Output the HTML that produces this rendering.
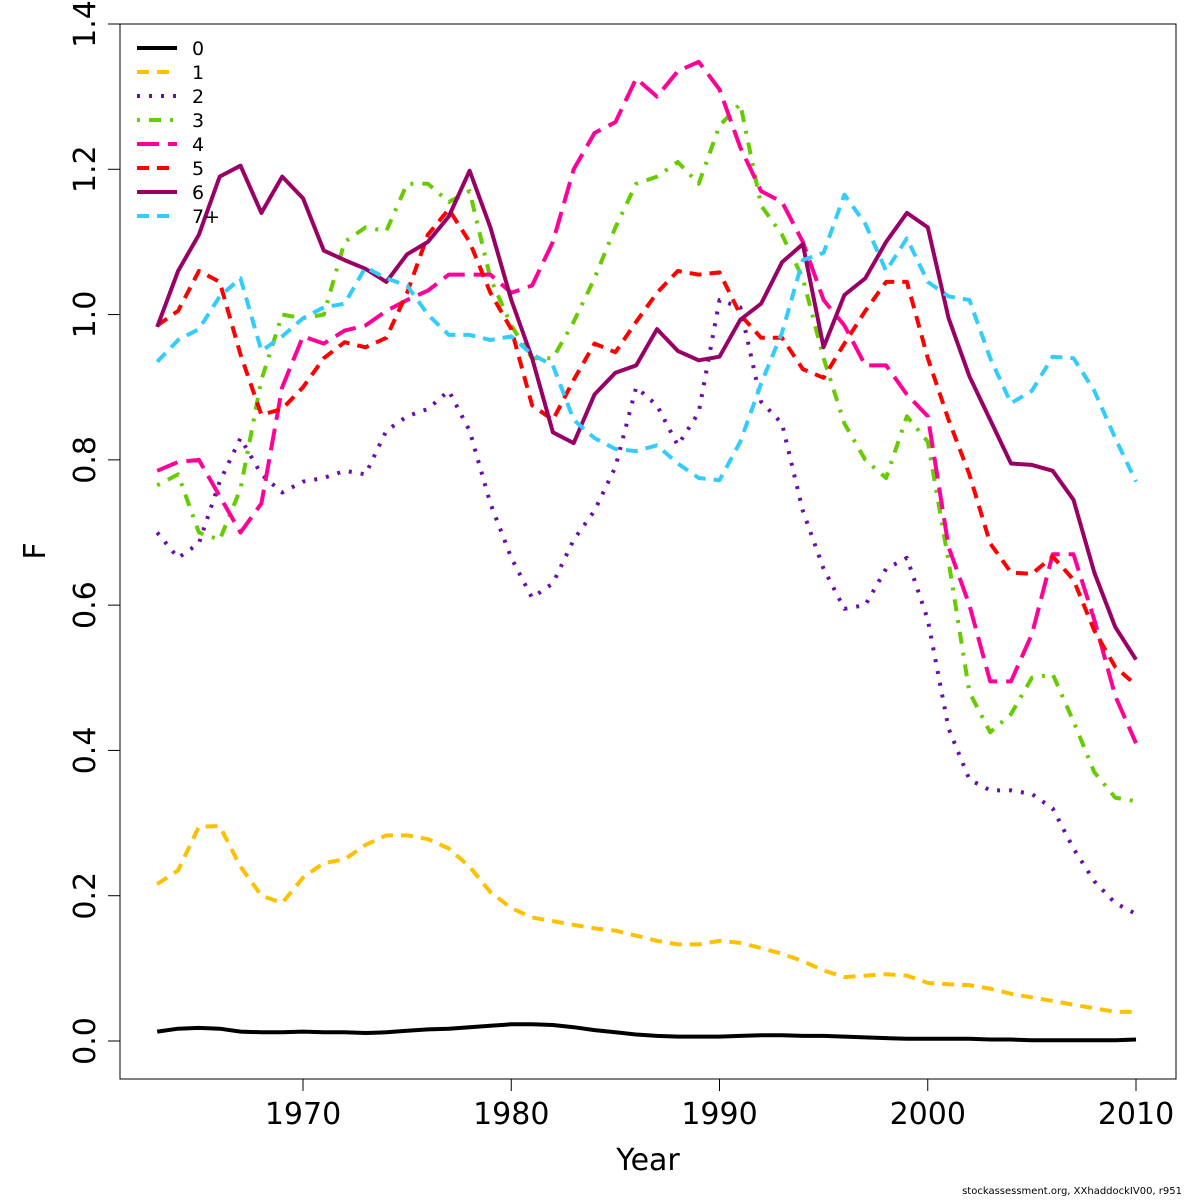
<!DOCTYPE html>
<html><head><meta charset="utf-8"><style>
body{margin:0;background:#fff}
svg{display:block;font-family:"DejaVu Sans","Liberation Sans",sans-serif}
</style></head><body>
<svg id="chart" width="1200" height="1200">
<rect x="120" y="24" width="1056" height="1055" fill="none" stroke="#000" stroke-width="1"/>
<g id="axes"></g><g id="series"></g><g id="legend"></g>
<text x="648" y="1170" font-size="30" text-anchor="middle">Year</text>
<text x="45" y="551" font-size="30" text-anchor="middle" transform="rotate(-90 45 551)">F</text>
<text x="1182" y="1194" font-size="10" text-anchor="end">stockassessment.org, XXhaddockIV00, r951</text>
</svg>
<script>
const years=[];for(let y=1963;y<=2010;y++)years.push(y);
const xTicks=[1970,1980,1990,2000,2010];
const yTicks=[0,0.2,0.4,0.6,0.8,1.0,1.2,1.4];
const yTickLabels=["0.0","0.2","0.4","0.6","0.8","1.0","1.2","1.4"];
const seriesNames=["0","1","2","3","4","5","6","7+"];
const f0=[0.013,0.017,0.018,0.017,0.013,0.012,0.012,0.013,0.012,0.012,0.011,0.012,0.014,0.016,0.017,0.019,0.021,0.023,0.023,0.022,0.019,0.015,0.012,0.009,0.007,0.006,0.006,0.006,0.007,0.008,0.008,0.007,0.007,0.006,0.005,0.004,0.003,0.003,0.003,0.003,0.002,0.002,0.001,0.001,0.001,0.001,0.001,0.002];
const f1=[0.216,0.235,0.295,0.296,0.24,0.2,0.19,0.225,0.245,0.25,0.27,0.283,0.283,0.278,0.265,0.24,0.205,0.183,0.17,0.165,0.16,0.155,0.152,0.145,0.138,0.133,0.133,0.138,0.135,0.128,0.12,0.11,0.097,0.088,0.09,0.092,0.09,0.08,0.078,0.077,0.072,0.065,0.06,0.055,0.05,0.045,0.04,0.04];
const f2=[0.70,0.665,0.685,0.77,0.83,0.78,0.755,0.77,0.775,0.785,0.78,0.84,0.86,0.87,0.895,0.84,0.74,0.665,0.61,0.63,0.69,0.73,0.79,0.9,0.875,0.82,0.865,1.02,1.01,0.88,0.85,0.73,0.65,0.595,0.6,0.65,0.665,0.58,0.43,0.36,0.345,0.345,0.34,0.32,0.265,0.22,0.19,0.175];
const f3=[0.765,0.78,0.7,0.69,0.76,0.91,1.0,0.995,1.0,1.1,1.12,1.115,1.18,1.18,1.155,1.17,1.05,0.985,0.94,0.94,0.99,1.05,1.12,1.18,1.19,1.21,1.18,1.26,1.29,1.15,1.11,1.05,0.94,0.85,0.8,0.775,0.86,0.825,0.66,0.48,0.425,0.45,0.5,0.505,0.44,0.37,0.335,0.33];
const f4=[0.785,0.797,0.8,0.75,0.7,0.74,0.9,0.97,0.96,0.978,0.985,1.005,1.02,1.033,1.055,1.055,1.055,1.03,1.04,1.1,1.2,1.25,1.265,1.325,1.3,1.335,1.348,1.31,1.23,1.17,1.155,1.1,1.02,0.985,0.93,0.93,0.89,0.86,0.68,0.6,0.495,0.495,0.56,0.67,0.67,0.58,0.475,0.41];
const f5=[0.985,1.005,1.06,1.045,0.945,0.862,0.87,0.9,0.94,0.962,0.955,0.968,1.03,1.11,1.145,1.1,1.03,0.98,0.875,0.855,0.91,0.96,0.948,0.99,1.03,1.06,1.055,1.058,1.0,0.968,0.968,0.925,0.913,0.96,1.005,1.045,1.045,0.94,0.855,0.78,0.685,0.645,0.643,0.667,0.635,0.565,0.515,0.49];
const f6=[0.983,1.06,1.11,1.19,1.205,1.14,1.19,1.16,1.088,1.075,1.063,1.045,1.083,1.1,1.135,1.198,1.12,1.02,0.94,0.838,0.823,0.89,0.92,0.93,0.98,0.95,0.937,0.942,0.993,1.015,1.072,1.097,0.955,1.027,1.05,1.1,1.14,1.12,0.995,0.915,0.855,0.795,0.793,0.785,0.745,0.645,0.57,0.525];
const f7=[0.935,0.965,0.98,1.025,1.05,0.95,0.97,0.995,1.01,1.015,1.065,1.05,1.04,1.0,0.972,0.972,0.965,0.97,0.945,0.93,0.855,0.83,0.815,0.812,0.82,0.795,0.775,0.772,0.825,0.905,0.975,1.075,1.085,1.165,1.125,1.06,1.105,1.045,1.025,1.02,0.94,0.878,0.895,0.942,0.94,0.895,0.83,0.77];
const allSeries=[f0,f1,f2,f3,f4,f5,f6,f7];
const colors=["#000000","#FFC000","#6A0DAD","#66CC00","#FF0099","#FF0000","#990066","#33CCFF"];
const dashes=["","12 8","3 9","3 9 12 9","22 9","12 8","","12 8"];
const X=y=>303+(y-1970)*(833/40);
const Y=v=>1041-v*(1017/1.4);
const NS="http://www.w3.org/2000/svg";
const mk=(t,a,p)=>{const e=document.createElementNS(NS,t);for(const k in a)e.setAttribute(k,a[k]);p.appendChild(e);return e;};
const ax=document.getElementById('axes');
mk('line',{x1:X(1970),x2:X(2010),y1:1079,y2:1079,stroke:'#000'},ax);
xTicks.forEach(t=>{
  const l=mk('line',{x1:X(t),x2:X(t),y1:1079,y2:1091,stroke:'#000'},ax);
  
  
  const tx=mk('text',{x:X(t),y:1124,'font-size':30,'text-anchor':'middle'},ax);tx.textContent=t;
  
  
});
mk('line',{x1:120,x2:120,y1:Y(0),y2:Y(1.4),stroke:'#000'},ax);
yTicks.forEach((t,i)=>{
  const l=mk('line',{x1:108,x2:120,y1:Y(t),y2:Y(t),stroke:'#000'},ax);
  
  
  const yy=Y(t);
  const tx=mk('text',{x:95,y:yy,'font-size':30,'text-anchor':'middle',transform:`rotate(-90 95 ${yy})`},ax);tx.textContent=yTickLabels[i];
  
  
});
const sg=document.getElementById('series');
allSeries.forEach((s,i)=>{
  const d=s.map((v,j)=>(j?'L':'M')+X(years[j]).toFixed(1)+','+Y(v).toFixed(1)).join('');
  const p=mk('path',{d:d,fill:'none',stroke:colors[i],'stroke-width':4,'stroke-dasharray':dashes[i],'stroke-linejoin':'round'},sg);
  
  
});
const lg=document.getElementById('legend');
seriesNames.forEach((n,i)=>{
  const yy=48+i*24;
  const g=mk('g',{},lg);
  
  
  mk('line',{x1:137,x2:177,y1:yy,y2:yy,stroke:colors[i],'stroke-width':4,'stroke-dasharray':dashes[i]},g);
  const t=mk('text',{x:192,y:yy+7,'font-size':19},g);t.textContent=n;
});
</script>
</body></html>
